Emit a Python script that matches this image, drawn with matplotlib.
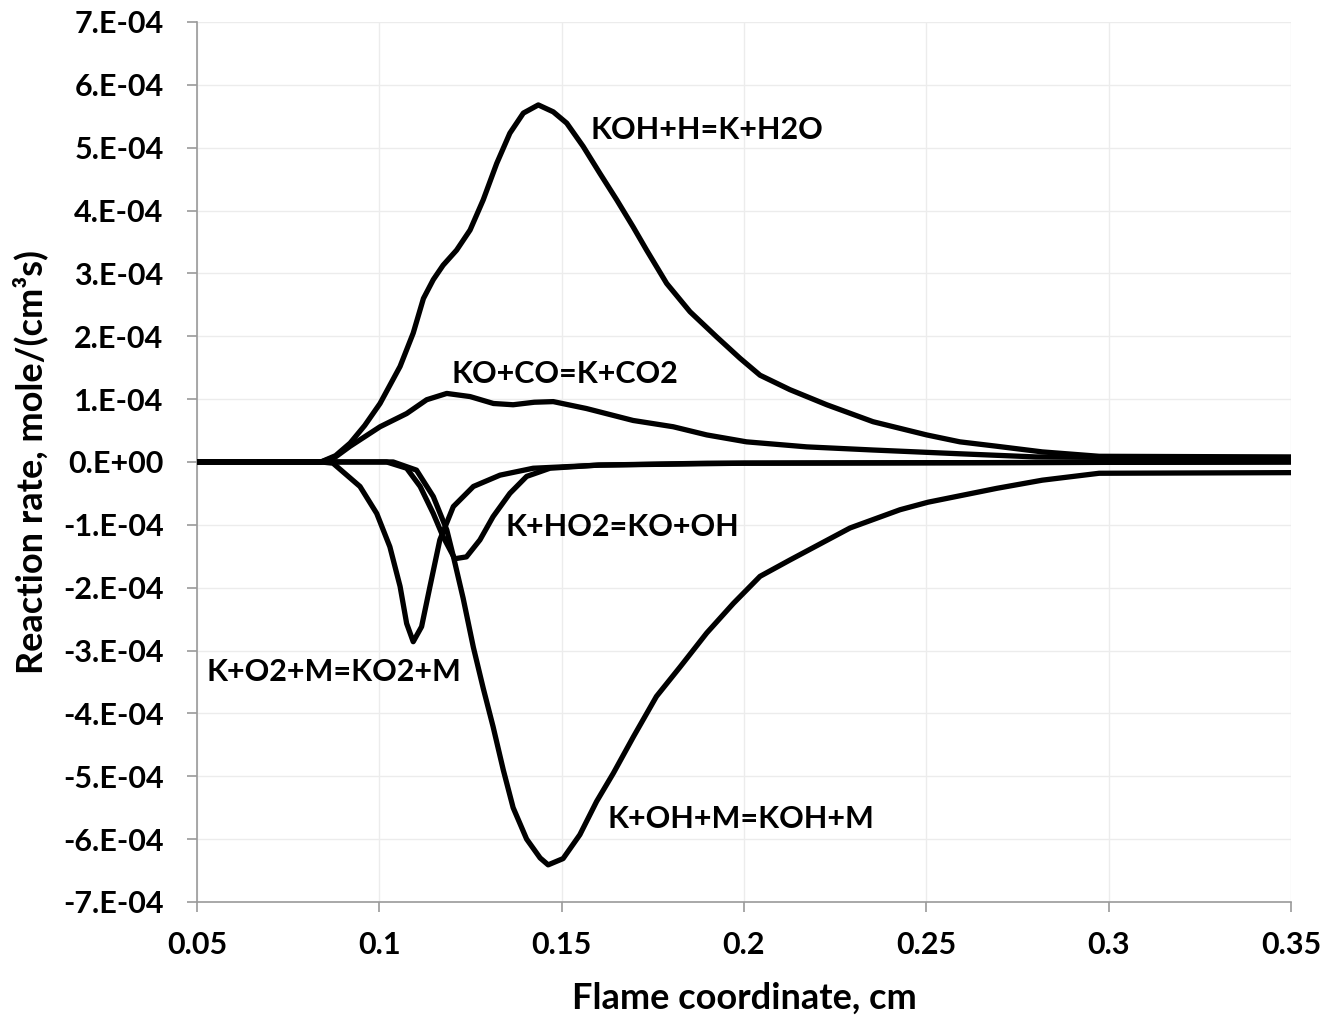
import matplotlib
matplotlib.use("Agg")
import matplotlib.pyplot as plt
from matplotlib.ticker import FixedLocator, FixedFormatter

plt.rcParams['font.family'] = ['Lato', 'DejaVu Sans']
plt.rcParams['font.weight'] = 'bold'

SCALE = 1e-4  # y values below are in units of 1e-4 mole/(cm^3 s)

# KOH+H=K+H2O
koh_h_x = [0.05, 0.084, 0.088, 0.092, 0.096, 0.1002, 0.1057, 0.1093, 0.1121, 0.1148, 0.1175,
           0.1212, 0.1249, 0.1285, 0.1322, 0.1358, 0.1395, 0.1436, 0.1477, 0.1514, 0.1559,
           0.1605, 0.1651, 0.1696, 0.1733, 0.1788, 0.1852, 0.1925, 0.1989, 0.2044, 0.2126,
           0.2227, 0.2354, 0.2501, 0.2592, 0.2693, 0.2818, 0.2974, 0.35]
koh_h_y = [0.0, 0.0, 0.1, 0.3, 0.58, 0.93, 1.52, 2.05, 2.60, 2.90, 3.13,
           3.37, 3.69, 4.17, 4.75, 5.23, 5.55, 5.68, 5.57, 5.39, 5.02,
           4.59, 4.17, 3.74, 3.37, 2.84, 2.39, 1.99, 1.65, 1.38, 1.15,
           0.91, 0.64, 0.43, 0.32, 0.25, 0.16, 0.09, 0.08]

# KO+CO=K+CO2
ko_co_x = [0.05, 0.084, 0.088, 0.092, 0.1002, 0.1075, 0.113, 0.1185, 0.1249, 0.1313, 0.1367,
           0.1425, 0.1477, 0.1568, 0.1696, 0.1806, 0.1898, 0.2007, 0.2172, 0.2354, 0.2592,
           0.28, 0.35]
ko_co_y = [0.0, 0.0, 0.08, 0.25, 0.56, 0.77, 0.99, 1.09, 1.04, 0.93, 0.91,
           0.95, 0.96, 0.85, 0.66, 0.56, 0.43, 0.32, 0.24, 0.19, 0.13,
           0.08, 0.05]

# K+HO2=KO+OH
k_ho2_x = [0.05, 0.102, 0.1075, 0.1112, 0.1148, 0.1175, 0.1207, 0.1239, 0.1276, 0.1312, 0.1358,
           0.1404, 0.1468, 0.16, 0.19, 0.35]
k_ho2_y = [0.0, 0.0, -0.10, -0.39, -0.82, -1.19, -1.54, -1.51, -1.24, -0.87, -0.50,
           -0.23, -0.10, -0.05, -0.02, 0.0]

# K+O2+M=KO2+M
k_o2_x = [0.05, 0.084, 0.0873, 0.0947, 0.0993, 0.1029, 0.1057, 0.1075, 0.1093, 0.1116, 0.1139,
          0.1166, 0.1203, 0.1258, 0.1331, 0.1422, 0.1605, 0.2, 0.35]
k_o2_y = [0.0, 0.0, -0.02, -0.39, -0.82, -1.35, -1.98, -2.57, -2.86, -2.62, -1.98,
          -1.24, -0.71, -0.39, -0.21, -0.10, -0.05, -0.02, 0.0]

# K+OH+M=KOH+M
k_oh_x = [0.05, 0.1038, 0.1102, 0.1148, 0.1185, 0.1203, 0.123, 0.1258, 0.1285, 0.1312, 0.134,
          0.1367, 0.1404, 0.1441, 0.1463, 0.1504, 0.155, 0.1596, 0.1642, 0.1697, 0.176,
          0.1825, 0.1898, 0.1971, 0.2044, 0.2126, 0.2291, 0.2428, 0.2505, 0.2693, 0.2818,
          0.2974, 0.35]
k_oh_y = [0.0, 0.0, -0.13, -0.55, -1.08, -1.50, -2.17, -2.95, -3.60, -4.21, -4.90,
          -5.50, -6.00, -6.30, -6.41, -6.31, -5.93, -5.40, -4.95, -4.37, -3.73,
          -3.26, -2.72, -2.25, -1.82, -1.56, -1.05, -0.76, -0.64, -0.42, -0.29,
          -0.18, -0.17]

series = [
    (koh_h_x, koh_h_y),
    (ko_co_x, ko_co_y),
    (k_ho2_x, k_ho2_y),
    (k_o2_x, k_o2_y),
    (k_oh_x, k_oh_y),
]

labels = ["KOH+H=K+H2O", "KO+CO=K+CO2", "K+HO2=KO+OH", "K+O2+M=KO2+M", "K+OH+M=KOH+M"]
label_x = [0.158, 0.1197, 0.1345, 0.0527, 0.1627]
label_y = [5.28, 1.40, -1.03, -3.34, -5.68]

x_ticks = [0.05, 0.1, 0.15, 0.2, 0.25, 0.3, 0.35]
x_tick_labels = ["0.05", "0.1", "0.15", "0.2", "0.25", "0.3", "0.35"]
y_ticks = [-7, -6, -5, -4, -3, -2, -1, 0, 1, 2, 3, 4, 5, 6, 7]
y_tick_labels = ["-7.E-04", "-6.E-04", "-5.E-04", "-4.E-04", "-3.E-04", "-2.E-04", "-1.E-04",
                 "0.E+00", "1.E-04", "2.E-04", "3.E-04", "4.E-04", "5.E-04", "6.E-04", "7.E-04"]

fig = plt.figure(figsize=(13.29, 10.21), dpi=100)
ax = fig.add_axes([0.1482, 0.1166, 0.9714 - 0.1482, 0.9785 - 0.1166])

for xs, ys in series:
    ax.plot(xs, [v * SCALE for v in ys], color='black', lw=3.8,
            solid_joinstyle='round', solid_capstyle='butt', zorder=3)

for t, lx, ly in zip(labels, label_x, label_y):
    ax.text(lx, ly * SCALE, t, ha='left', va='center', fontsize=22, fontweight='bold',
            color='black', zorder=4)

ax.set_xlim(0.05, 0.35)
ax.set_ylim(-7 * SCALE, 7 * SCALE)
ax.xaxis.set_major_locator(FixedLocator(x_ticks))
ax.xaxis.set_major_formatter(FixedFormatter(x_tick_labels))
ax.yaxis.set_major_locator(FixedLocator([v * SCALE for v in y_ticks]))
ax.yaxis.set_major_formatter(FixedFormatter(y_tick_labels))

ax.grid(True, color='#ececec', lw=1.0, zorder=0)
ax.set_axisbelow(True)
for s in ['top', 'right']:
    ax.spines[s].set_visible(False)
for s in ['left', 'bottom']:
    ax.spines[s].set_color('#9a9a9a')
    ax.spines[s].set_linewidth(1.2)
ax.tick_params(axis='both', direction='out', length=7, width=1.2, color='#9a9a9a',
               labelsize=22)
ax.tick_params(axis='y', pad=17)
ax.tick_params(axis='x', pad=14)
for lab in ax.get_xticklabels() + ax.get_yticklabels():
    lab.set_fontweight('bold')

ax.set_xlabel("Flame coordinate, cm", fontsize=26, fontweight='bold')
ax.set_ylabel("Reaction rate, mole/(cm³s)", fontsize=26, fontweight='bold')
ax.xaxis.set_label_coords(0.5, -0.109)
ax.xaxis.label.set_va('center')
ax.yaxis.set_label_coords(-0.1527, 0.5)
ax.yaxis.label.set_va('center')
ax.yaxis.label.set_ha('center')

fig.savefig("out.png", dpi=100, facecolor='white')
